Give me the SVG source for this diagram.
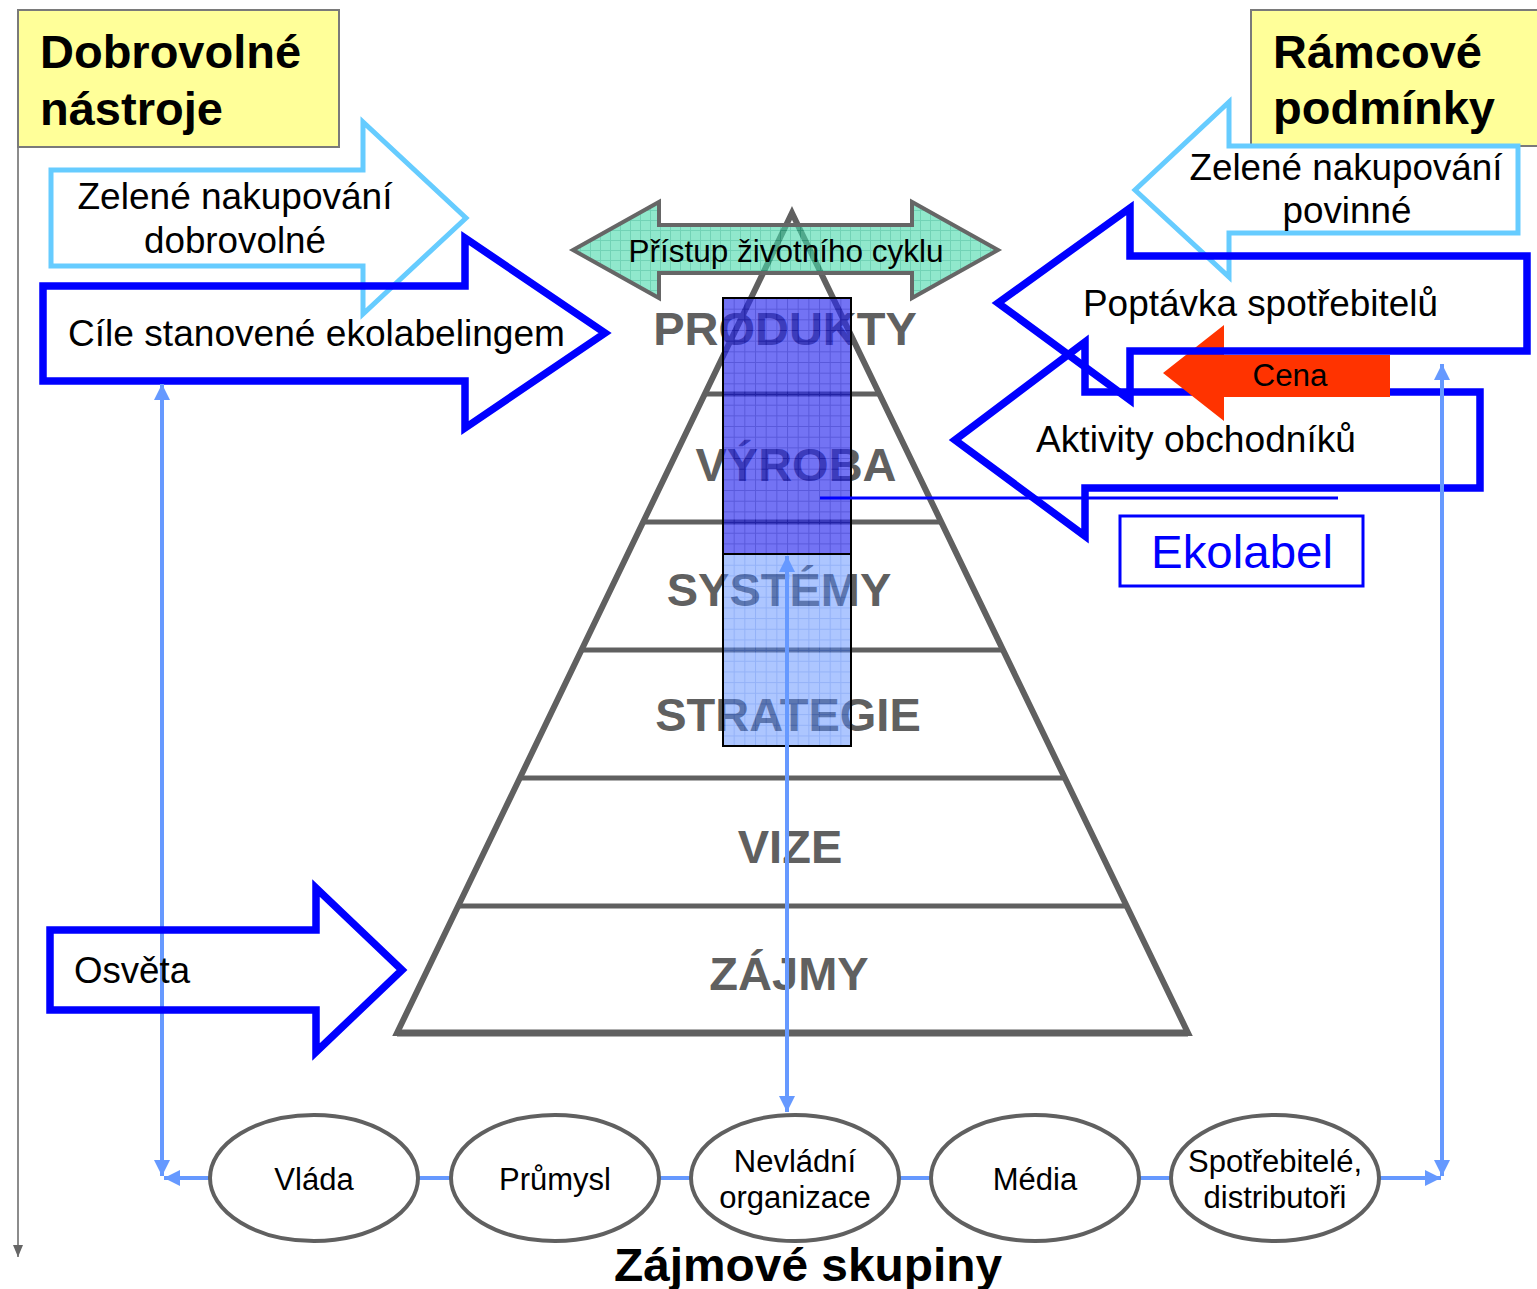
<svg xmlns="http://www.w3.org/2000/svg" width="1537" height="1289" viewBox="0 0 1537 1289">
<defs>
  <pattern id="gDark" width="10.67" height="10.67" patternUnits="userSpaceOnUse" x="723" y="298">
    <rect width="10.67" height="10.67" fill="#2828EE"/>
    <path d="M0,0.5 H10.67 M0.5,0 V10.67" stroke="#0000C8" stroke-width="1"/>
  </pattern>
  <pattern id="gLight" width="10.67" height="10.67" patternUnits="userSpaceOnUse" x="723" y="298">
    <rect width="10.67" height="10.67" fill="#5B8DFF"/>
    <path d="M0,0.5 H10.67 M0.5,0 V10.67" stroke="#2A66F0" stroke-width="1"/>
  </pattern>
  <pattern id="gGreen" width="10" height="10" patternUnits="userSpaceOnUse">
    <rect width="10" height="10" fill="#46D9AA"/>
    <path d="M0,0.5 H10 M0.5,0 V10" stroke="#14B585" stroke-width="1"/>
  </pattern>
  <marker id="ab" viewBox="0 0 10 10" refX="10" refY="5" markerWidth="16" markerHeight="16" markerUnits="userSpaceOnUse" orient="auto-start-reverse">
    <path d="M0,0 L10,5 L0,10 z" fill="#6699FF"/>
  </marker>
  <marker id="ag" viewBox="0 0 12 10" refX="12" refY="5" markerWidth="12" markerHeight="10" markerUnits="userSpaceOnUse" orient="auto">
    <path d="M0,0 L12,5 L0,10 z" fill="#666666"/>
  </marker>
</defs>
<style>
  text { font-family: "Liberation Sans", Arial, sans-serif; }
  .title { font-size: 47px; font-weight: bold; fill: #000; }
  .lbl { font-size: 36px; fill: #000; }
  .pyr { font-size: 47px; font-weight: bold; fill: #606060; text-anchor: middle; }
  .ell { font-size: 31px; fill: #000; text-anchor: middle; }
  .ybox { fill: #FFFF99; stroke: #7A7A7A; stroke-width: 2; }
  .arL { fill: none; stroke: #66CCFF; stroke-width: 5; }
  .arB { fill: none; stroke: #0000FF; stroke-width: 7.5; }
  .pl { stroke: #606060; stroke-width: 5; }
  .conn { stroke: #6699FF; stroke-width: 4; fill: none; }
  .node { fill: #FFFFFF; stroke: #606060; stroke-width: 4; }
</style>
<rect width="1537" height="1289" fill="#FFFFFF"/>

<!-- Left gray axis -->
<line x1="18" y1="147" x2="18" y2="1257" stroke="#666666" stroke-width="1.5" marker-end="url(#ag)"/>

<g id="box-dobrovolne">
  <rect class="ybox" x="18" y="10" width="321" height="137"/>
  <text class="title" x="40" y="68">Dobrovolné</text>
  <text class="title" x="40" y="125">nástroje</text>
</g>
<g id="box-ramcove">
  <rect class="ybox" x="1251" y="10" width="300" height="136"/>
  <text class="title" x="1273" y="68">Rámcové</text>
  <text class="title" x="1273" y="124">podmínky</text>
</g>

<g id="pyramid">
  <polygon points="792,213 1188,1033 397,1033" fill="none" stroke="#606060" stroke-width="6"/>
  <line x1="397" y1="1033" x2="1188" y2="1033" stroke="#606060" stroke-width="7"/>
  <line class="pl" x1="705" y1="394" x2="879" y2="394"/>
  <line class="pl" x1="643" y1="522" x2="941" y2="522"/>
  <line class="pl" x1="581" y1="650" x2="1003" y2="650"/>
  <line class="pl" x1="520" y1="778" x2="1064" y2="778"/>
  <line class="pl" x1="458" y1="906" x2="1126" y2="906"/>
  <text class="pyr" x="785" y="345">PRODUKTY</text>
  <text class="pyr" x="796" y="481">VÝROBA</text>
  <text class="pyr" x="779" y="606">SYSTÉMY</text>
  <text class="pyr" x="788" y="731">STRATEGIE</text>
  <text class="pyr" x="790" y="863">VIZE</text>
  <text class="pyr" x="789" y="990">ZÁJMY</text>
</g>

<g id="bar-dark">
  <rect x="723" y="298" width="128" height="256" fill="url(#gDark)" fill-opacity="0.65" stroke="#000" stroke-width="2"/>
</g>
<g id="bar-light">
  <rect x="723" y="554" width="128" height="192" fill="url(#gLight)" fill-opacity="0.5" stroke="#000" stroke-width="2"/>
</g>

<g id="lifecycle">
  <polygon points="573,250 659,202 659,225 912,225 912,202 998,250 912,298 912,273 659,273 659,298" fill="url(#gGreen)" fill-opacity="0.6" stroke="#666666" stroke-width="4"/>
  <text x="786" y="262" font-size="31" text-anchor="middle" textLength="315" lengthAdjust="spacingAndGlyphs">Přístup životního cyklu</text>
</g>

<g id="arrow-zelene-dobrovolne">
  <polygon class="arL" points="51,170 363,170 363,122 466,218 363,314 363,266 51,266"/>
  <text class="lbl" x="235" y="209" text-anchor="middle" textLength="315" lengthAdjust="spacingAndGlyphs">Zelené nakupování</text>
  <text class="lbl" x="235" y="253" text-anchor="middle" textLength="182" lengthAdjust="spacingAndGlyphs">dobrovolné</text>
</g>

<g id="arrow-cile">
  <polygon class="arB" points="43,286 465,286 465,238 605,333 465,428 465,381 43,381"/>
  <text class="lbl" x="68" y="346" textLength="497" lengthAdjust="spacingAndGlyphs">Cíle stanovené ekolabelingem</text>
</g>

<g id="arrow-zelene-povinne">
  <polygon class="arL" points="1518,146 1229,146 1229,102 1135,190 1229,277 1229,233 1518,233"/>
  <text class="lbl" x="1346" y="180" text-anchor="middle" textLength="313" lengthAdjust="spacingAndGlyphs">Zelené nakupování</text>
  <text class="lbl" x="1347" y="223" text-anchor="middle" textLength="129" lengthAdjust="spacingAndGlyphs">povinné</text>
</g>

<g id="arrow-aktivity">
  <polygon class="arB" points="1480,392 1085,392 1085,342 955,440 1085,536 1085,488 1480,488"/>
  <text class="lbl" x="1036" y="452" textLength="320" lengthAdjust="spacingAndGlyphs">Aktivity obchodníků</text>
</g>

<g id="arrow-cena">
  <polygon points="1390,355 1224,355 1224,325 1163,373 1224,421 1224,397 1390,397" fill="#FF3300"/>
  <text x="1290" y="386" font-size="31" text-anchor="middle" textLength="75" lengthAdjust="spacingAndGlyphs">Cena</text>
</g>

<g id="arrow-poptavka">
  <polygon class="arB" points="1527,256 1130,256 1130,208 998,303 1130,400 1130,351 1527,351"/>
  <text class="lbl" x="1083" y="316" textLength="355" lengthAdjust="spacingAndGlyphs">Poptávka spotřebitelů</text>
</g>

<g id="ekolabel">
  <rect x="1120" y="516" width="243" height="70" fill="none" stroke="#0000FF" stroke-width="3"/>
  <text x="1242" y="568" font-size="46" fill="#0000FF" text-anchor="middle" textLength="182" lengthAdjust="spacingAndGlyphs">Ekolabel</text>
</g>

<g id="connectors">
  <line x1="820" y1="498" x2="1338" y2="498" stroke="#0000FF" stroke-width="3"/>
  <line class="conn" x1="162" y1="1176" x2="162" y2="384" marker-start="url(#ab)" marker-end="url(#ab)"/>
  <line class="conn" x1="1442" y1="1176" x2="1442" y2="364" marker-start="url(#ab)" marker-end="url(#ab)"/>
  <line class="conn" x1="787" y1="1112" x2="787" y2="556" marker-start="url(#ab)" marker-end="url(#ab)"/>
  <line class="conn" x1="164" y1="1178" x2="1441" y2="1178" stroke-width="6" marker-start="url(#ab)" marker-end="url(#ab)"/>
</g>

<g id="arrow-osveta">
  <polygon class="arB" points="50,930 316,930 316,888 402,970 316,1052 316,1010 50,1010" fill="#FFFFFF"/>
  <text class="lbl" x="74" y="983" textLength="116" lengthAdjust="spacingAndGlyphs">Osvěta</text>
</g>

<g id="node-vlada">
  <ellipse class="node" cx="314" cy="1178" rx="104" ry="63"/>
  <text class="ell" x="314" y="1190">Vláda</text>
</g>
<g id="node-prumysl">
  <ellipse class="node" cx="555" cy="1178" rx="104" ry="63"/>
  <text class="ell" x="555" y="1190">Průmysl</text>
</g>
<g id="node-nevladni">
  <ellipse class="node" cx="795" cy="1178" rx="104" ry="63"/>
  <text class="ell" x="795" y="1172">Nevládní</text>
  <text class="ell" x="795" y="1208">organizace</text>
</g>
<g id="node-media">
  <ellipse class="node" cx="1035" cy="1178" rx="104" ry="63"/>
  <text class="ell" x="1035" y="1190">Média</text>
</g>
<g id="node-spotrebitele">
  <ellipse class="node" cx="1275" cy="1178" rx="104" ry="63"/>
  <text class="ell" x="1275" y="1172">Spotřebitelé,</text>
  <text class="ell" x="1275" y="1208">distributoři</text>
</g>

<text x="808" y="1281" font-size="46" font-weight="bold" text-anchor="middle" textLength="388" lengthAdjust="spacingAndGlyphs">Zájmové skupiny</text>
</svg>
